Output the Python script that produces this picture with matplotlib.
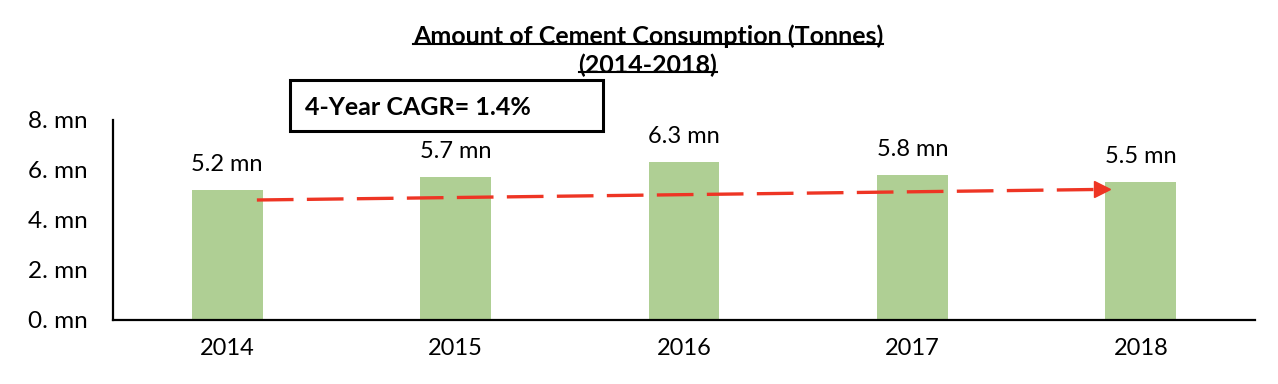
import numpy as np
import matplotlib.pyplot as plt
from matplotlib.patches import Rectangle

years = ['2014', '2015', '2016', '2017', '2018']
consumption = [5.2, 5.7, 6.3, 5.8, 5.5]  # million tonnes
yticks = [0, 2, 4, 6, 8]
trend_x = [0.13, 3.8]
trend_y = [4.8, 5.22]

plt.rcParams['font.family'] = ['Lato', 'DejaVu Sans']

fig = plt.figure(figsize=(12.78, 3.84), dpi=100)
ax = fig.add_axes([0.0884, 0.1667, 0.8936, 0.5208])

x = np.arange(len(years))
ax.bar(x, consumption, width=0.31, color='#afcf94')

for xi, v in zip(x, consumption):
    ax.annotate(f"{v} mn", (xi, v), xytext=(0, 11), textcoords='offset points',
                ha='center', va='bottom', fontsize=17)

# CAGR trend arrow
ax.plot(trend_x, trend_y, color='#ee3524', lw=2.4, dashes=(11, 4))
ax.plot(trend_x[1] + 0.03, trend_y[1] + 0.003, marker='>', color='#ee3524', markersize=11)

ax.set_xlim(-0.5, 4.5)
ax.set_ylim(0, 8)
ax.set_xticks(x)
ax.set_xticklabels(years, fontsize=17)
ax.set_yticks(yticks)
ax.set_yticklabels([f"{t}. mn" for t in yticks], fontsize=17.5)
ax.tick_params(axis='y', length=0, pad=18)
ax.tick_params(axis='x', length=0, pad=13)
for s in ['top', 'right']:
    ax.spines[s].set_visible(False)
for s in ['left', 'bottom']:
    ax.spines[s].set_linewidth(1.6)

t1 = fig.text(0.507, 0.905, 'Amount of Cement Consumption (Tonnes)', ha='center', va='center',
              fontsize=18, fontweight='bold')
t2 = fig.text(0.507, 0.83, '(2014-2018)', ha='center', va='center', fontsize=18, fontweight='bold')

fig.add_artist(Rectangle((0.227, 0.659), 0.245, 0.133, transform=fig.transFigure,
                         fill=False, edgecolor='black', lw=2.2))
fig.text(0.239, 0.719, '4-Year CAGR= 1.4%', ha='left', va='center', fontsize=18, fontweight='bold')

# underline the title lines
r = fig.canvas.get_renderer()
for t in (t1, t2):
    bb = t.get_window_extent(r).transformed(fig.transFigure.inverted())
    fig.add_artist(plt.Line2D([bb.x0, bb.x1], [bb.y0 + 0.012, bb.y0 + 0.012], color='black', lw=1.5))

fig.savefig('out.png', dpi=100)
